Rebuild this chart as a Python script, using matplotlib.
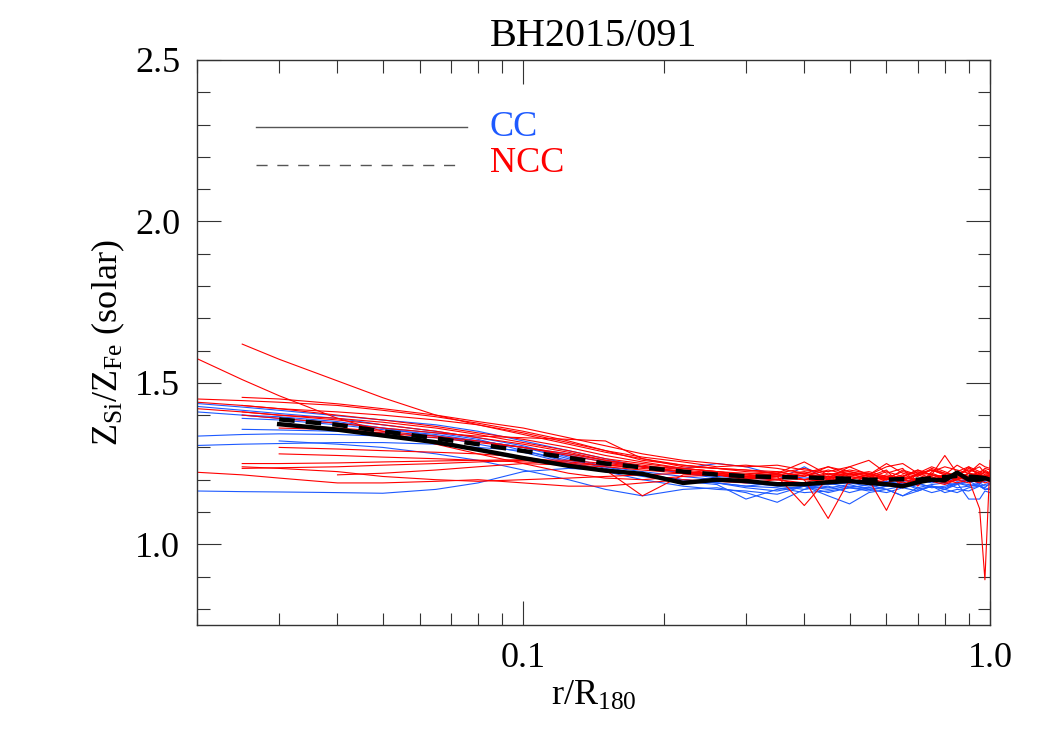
import numpy as np
import matplotlib.pyplot as plt
from matplotlib.ticker import FixedLocator, LogLocator, MultipleLocator, NullFormatter

plt.rcParams['font.family'] = ['Liberation Serif', 'DejaVu Serif']
plt.rcParams['mathtext.fontset'] = 'custom'
plt.rcParams['mathtext.rm'] = 'Liberation Serif'
plt.rcParams['mathtext.it'] = 'Liberation Serif:italic'

nan = np.nan

# radial bins (r/R180)
r_bins = [0.02, 0.025, 0.03, 0.04, 0.05, 0.065, 0.08, 0.1, 0.125, 0.15, 0.18, 0.22, 0.26,
          0.3, 0.35, 0.4, 0.45, 0.5, 0.55, 0.6, 0.65, 0.7, 0.75, 0.8, 0.85, 0.9, 0.95, 0.975, 1.0]

# individual cool-core clusters (blue)
cc_1 = [1.436, 1.425, 1.415, 1.398, 1.385, 1.37, 1.35, 1.32, 1.29, 1.265, 1.24, 1.22, 1.21, 1.205, 1.2, 1.24, 1.2, 1.195, 1.2, 1.19, 1.195, 1.2, 1.19, 1.2, 1.205, 1.2, 1.19, 1.195, 1.2]
cc_2 = [1.427, 1.415, 1.405, 1.39, 1.37, 1.35, 1.33, 1.305, 1.27, 1.24, 1.215, 1.2, 1.19, 1.18, 1.19, 1.18, 1.185, 1.19, 1.18, 1.195, 1.185, 1.19, 1.2, 1.19, 1.185, 1.2, 1.21, 1.2, 1.195]
cc_3 = [1.41, 1.40, 1.39, 1.375, 1.36, 1.345, 1.325, 1.29, 1.255, 1.23, 1.21, 1.195, 1.185, 1.14, 1.17, 1.18, 1.16, 1.175, 1.185, 1.17, 1.18, 1.19, 1.175, 1.18, 1.19, 1.185, 1.18, 1.175, 1.19]
cc_4 = [1.335, 1.34, 1.342, 1.34, 1.335, 1.33, 1.32, 1.30, 1.265, 1.235, 1.215, 1.20, 1.19, 1.175, 1.165, 1.18, 1.17, 1.18, 1.175, 1.19, 1.175, 1.185, 1.18, 1.17, 1.185, 1.195, 1.18, 1.185, 1.19]
cc_5 = [1.306, 1.31, 1.312, 1.315, 1.315, 1.31, 1.30, 1.29, 1.26, 1.24, 1.225, 1.21, 1.2, 1.19, 1.18, 1.17, 1.19, 1.175, 1.165, 1.18, 1.19, 1.17, 1.18, 1.175, 1.19, 1.18, 1.185, 1.17, 1.175]
cc_6 = [1.165, 1.163, 1.162, 1.16, 1.158, 1.17, 1.19, 1.225, 1.235, 1.23, 1.215, 1.2, 1.19, 1.18, 1.175, 1.16, 1.165, 1.175, 1.17, 1.16, 1.175, 1.165, 1.18, 1.17, 1.16, 1.175, 1.18, 1.17, 1.17]
cc_7 = [nan, 1.356, 1.354, 1.35, 1.345, 1.335, 1.32, 1.30, 1.28, 1.26, 1.24, 1.22, 1.205, 1.195, 1.185, 1.18, 1.175, 1.185, 1.17, 1.18, 1.19, 1.175, 1.185, 1.19, 1.175, 1.18, 1.19, 1.18, 1.185]
cc_8 = [nan, 1.39, 1.385, 1.37, 1.355, 1.34, 1.32, 1.30, 1.275, 1.255, 1.24, 1.235, 1.25, 1.24, 1.215, 1.205, 1.21, 1.2, 1.19, 1.195, 1.2, 1.19, 1.2, 1.21, 1.195, 1.2, 1.19, 1.2, 1.2]
cc_9 = [nan, nan, 1.32, 1.31, 1.3, 1.28, 1.26, 1.23, 1.2, 1.17, 1.15, 1.17, 1.175, 1.16, 1.13, 1.17, 1.18, 1.16, 1.175, 1.17, 1.15, 1.165, 1.18, 1.16, 1.17, 1.165, 1.18, 1.17, 1.17]
cc_10 = [nan, 1.40, 1.395, 1.38, 1.36, 1.335, 1.31, 1.285, 1.25, 1.225, 1.2, 1.18, 1.17, 1.165, 1.155, 1.18, 1.15, 1.125, 1.16, 1.17, 1.15, 1.175, 1.16, 1.17, 1.19, 1.14, 1.14, 1.165, 1.16]

# individual non-cool-core clusters (red)
ncc_1 = [nan, 1.62, 1.573, 1.506, 1.454, 1.40, 1.37, 1.34, 1.31, 1.285, 1.265, 1.245, 1.235, 1.23, 1.225, 1.21, 1.24, 1.215, 1.22, 1.2, 1.21, 1.23, 1.215, 1.2, 1.22, 1.21, 1.225, 1.215, 1.21]
ncc_2 = [1.575, 1.51, 1.46, 1.39, 1.35, 1.31, 1.28, 1.25, 1.22, 1.205, 1.2, 1.21, 1.215, 1.2, 1.21, 1.22, 1.205, 1.19, 1.21, 1.2, 1.215, 1.2, 1.195, 1.21, 1.2, 1.22, 1.205, 1.21, 1.215]
ncc_3 = [1.45, 1.445, 1.44, 1.43, 1.415, 1.395, 1.375, 1.35, 1.32, 1.29, 1.26, 1.245, 1.235, 1.23, 1.22, 1.255, 1.215, 1.225, 1.21, 1.23, 1.175, 1.22, 1.24, 1.225, 1.21, 1.235, 1.22, 1.235, 1.23]
ncc_4 = [1.44, 1.43, 1.42, 1.41, 1.40, 1.385, 1.37, 1.345, 1.315, 1.29, 1.27, 1.255, 1.24, 1.245, 1.235, 1.22, 1.24, 1.225, 1.215, 1.24, 1.25, 1.22, 1.23, 1.215, 1.245, 1.225, 1.24, 1.22, 1.22]
ncc_5 = [nan, 1.455, 1.45, 1.435, 1.42, 1.40, 1.38, 1.36, 1.33, 1.305, 1.28, 1.26, 1.25, 1.24, 1.245, 1.23, 1.225, 1.24, 1.26, 1.22, 1.235, 1.18, 1.225, 1.24, 1.23, 1.22, 1.25, 1.24, 1.235]
ncc_6 = [nan, nan, 1.28, 1.275, 1.27, 1.265, 1.26, 1.255, 1.25, 1.245, 1.24, 1.235, 1.225, 1.215, 1.2, 1.19, 1.21, 1.2, 1.185, 1.2, 1.21, 1.195, 1.2, 1.19, 1.205, 1.2, 1.19, 1.2, 1.2]
ncc_7 = [nan, 1.25, 1.25, 1.252, 1.255, 1.258, 1.26, 1.262, 1.26, 1.25, 1.24, 1.225, 1.215, 1.21, 1.205, 1.2, 1.195, 1.21, 1.2, 1.19, 1.205, 1.2, 1.21, 1.19, 1.2, 1.21, 1.2, 1.19, 1.195]
ncc_8 = [nan, 1.235, 1.237, 1.24, 1.245, 1.25, 1.255, 1.26, 1.255, 1.245, 1.235, 1.225, 1.22, 1.21, 1.215, 1.2, 1.22, 1.21, 1.2, 1.215, 1.205, 1.2, 1.215, 1.21, 1.2, 1.22, 1.21, 1.2, 1.2]
ncc_9 = [nan, nan, nan, 1.215, 1.22, 1.23, 1.24, 1.25, 1.245, 1.24, 1.23, 1.22, 1.215, 1.205, 1.2, 1.215, 1.2, 1.19, 1.2, 1.21, 1.2, 1.19, 1.205, 1.2, 1.19, 1.2, 1.215, 1.21, 1.2]
ncc_10 = [1.223, 1.215, 1.205, 1.19, 1.19, 1.195, 1.2, 1.19, 1.18, 1.18, 1.19, 1.2, 1.195, 1.19, 1.2, 1.185, 1.195, 1.2, 1.19, 1.205, 1.19, 1.2, 1.195, 1.185, 1.2, 1.19, 1.205, 1.2, 1.2]
ncc_11 = [nan, 1.40, 1.39, 1.375, 1.36, 1.345, 1.335, 1.33, 1.325, 1.32, 1.265, 1.24, 1.235, 1.225, 1.22, 1.235, 1.215, 1.23, 1.22, 1.205, 1.225, 1.215, 1.23, 1.22, 1.21, 1.24, 1.225, 1.23, 1.22]
ncc_12 = [nan, nan, 1.30, 1.295, 1.29, 1.285, 1.28, 1.27, 1.25, 1.23, 1.15, 1.215, 1.22, 1.21, 1.2, 1.215, 1.205, 1.22, 1.21, 1.2, 1.23, 1.215, 1.2, 1.21, 1.22, 1.205, 1.2, 1.215, 1.21]
ncc_13 = [1.42, 1.41, 1.40, 1.385, 1.37, 1.35, 1.33, 1.31, 1.285, 1.26, 1.24, 1.225, 1.215, 1.21, 1.22, 1.2, 1.08, 1.2, 1.215, 1.21, 1.195, 1.22, 1.205, 1.215, 1.2, 1.21, 1.22, 1.205, 1.215]
ncc_14 = [nan, 1.43, 1.42, 1.40, 1.385, 1.365, 1.345, 1.325, 1.30, 1.275, 1.255, 1.235, 1.225, 1.22, 1.215, 1.225, 1.21, 1.22, 1.2, 1.105, 1.21, 1.225, 1.215, 1.275, 1.22, 1.21, 1.215, 1.225, 1.22]
ncc_15 = [nan, nan, 1.36, 1.355, 1.345, 1.33, 1.315, 1.3, 1.28, 1.26, 1.245, 1.23, 1.22, 1.215, 1.21, 1.12, 1.205, 1.24, 1.215, 1.25, 1.22, 1.21, 1.235, 1.22, 1.215, 1.23, 1.22, 1.2, 1.225]
ncc_16 = [nan, nan, 1.37, 1.36, 1.35, 1.335, 1.32, 1.3, 1.275, 1.255, 1.24, 1.225, 1.215, 1.205, 1.215, 1.2, 1.21, 1.2, 1.215, 1.205, 1.2, 1.215, 1.22, 1.205, 1.21, 1.2, 1.11, 0.89, 1.26]
ncc_17 = [nan, 1.41, 1.40, 1.39, 1.378, 1.36, 1.34, 1.315, 1.29, 1.265, 1.25, 1.235, 1.225, 1.215, 1.225, 1.21, 1.23, 1.215, 1.205, 1.225, 1.21, 1.23, 1.215, 1.205, 1.225, 1.24, 1.21, 1.225, 1.215]
ncc_18 = [nan, 1.24, 1.235, 1.225, 1.21, 1.2, 1.195, 1.2, 1.205, 1.21, 1.215, 1.22, 1.215, 1.205, 1.21, 1.22, 1.2, 1.215, 1.225, 1.21, 1.2, 1.215, 1.23, 1.215, 1.205, 1.22, 1.215, 1.21, 1.225]

# sample averages
cc_mean = [nan, nan, 1.372, 1.355, 1.337, 1.316, 1.293, 1.267, 1.243, 1.228, 1.218, 1.19, 1.2, 1.196, 1.186, 1.186, 1.192, 1.196, 1.19, 1.186, 1.18, 1.192, 1.2, 1.198, 1.222, 1.2, 1.2, 1.205, 1.2]
ncc_mean = [nan, nan, 1.387, 1.37, 1.35, 1.328, 1.31, 1.289, 1.268, 1.25, 1.238, 1.225, 1.216, 1.211, 1.208, 1.207, 1.205, 1.203, 1.2, 1.2, 1.202, 1.2, 1.205, 1.208, 1.212, 1.21, 1.207, 1.205, 1.205]

cc_lines = [cc_1, cc_2, cc_3, cc_4, cc_5, cc_6, cc_7, cc_8, cc_9, cc_10]
ncc_lines = [ncc_1, ncc_2, ncc_3, ncc_4, ncc_5, ncc_6, ncc_7, ncc_8, ncc_9,
             ncc_10, ncc_11, ncc_12, ncc_13, ncc_14, ncc_15, ncc_16, ncc_17, ncc_18]

fig = plt.figure(figsize=(10.5, 7.5), dpi=100)
ax = fig.add_axes([0.1876, 0.1667, 0.7553, 0.7533])

for y in cc_lines:
    ax.plot(r_bins, y, color='#1e5aff', lw=0.8)
for y in ncc_lines:
    ax.plot(r_bins, y, color='#ff0000', lw=0.8)

ax.plot(r_bins, cc_mean, color='black', lw=3.2)
ax.plot(r_bins, ncc_mean, color='black', lw=3.2, dashes=(3.5, 2.5))

# legend drawn IDL style
ax.plot([0.074, 0.340], [0.881, 0.881], transform=ax.transAxes, color='#555555', lw=1)
ax.plot([0.074, 0.329], [0.814, 0.814], transform=ax.transAxes, color='#555555', lw=1,
        dashes=(8, 7))
ax.text(0.369, 0.881, 'CC', transform=ax.transAxes, color='#1e5aff', fontsize=26, va='center')
ax.text(0.369, 0.816, 'NCC', transform=ax.transAxes, color='#ff0000', fontsize=26, va='center')

ax.set_xscale('log')
ax.set_xlim(0.02, 1.0)
ax.set_ylim(0.75, 2.5)

ax.xaxis.set_major_locator(FixedLocator([0.1, 1.0]))
ax.set_xticklabels(['0.1', '1.0'])
ax.xaxis.set_minor_locator(LogLocator(base=10, subs=np.arange(2, 10)))
ax.xaxis.set_minor_formatter(NullFormatter())
ax.yaxis.set_major_locator(MultipleLocator(0.5))
ax.yaxis.set_minor_locator(MultipleLocator(0.1))
ax.yaxis.set_major_formatter(plt.FormatStrFormatter('%.1f'))

ax.tick_params(which='both', direction='in', top=True, right=True, labelsize=26,
               width=0.8, color='#333333')
ax.tick_params(which='major', length=17, pad=12)
ax.tick_params(which='minor', length=9)
for s in ax.spines.values():
    s.set_linewidth(1.0)
    s.set_color('#333333')

ax.set_xlabel('r/R$_{180}$', fontsize=26, labelpad=4)
ax.set_ylabel('Z$_{\\rm Si}$/Z$_{\\rm Fe}$ (solar)', fontsize=26, labelpad=6)
ax.set_title('BH2015/091', fontsize=29, pad=10)

fig.savefig('out.png', dpi=100)
